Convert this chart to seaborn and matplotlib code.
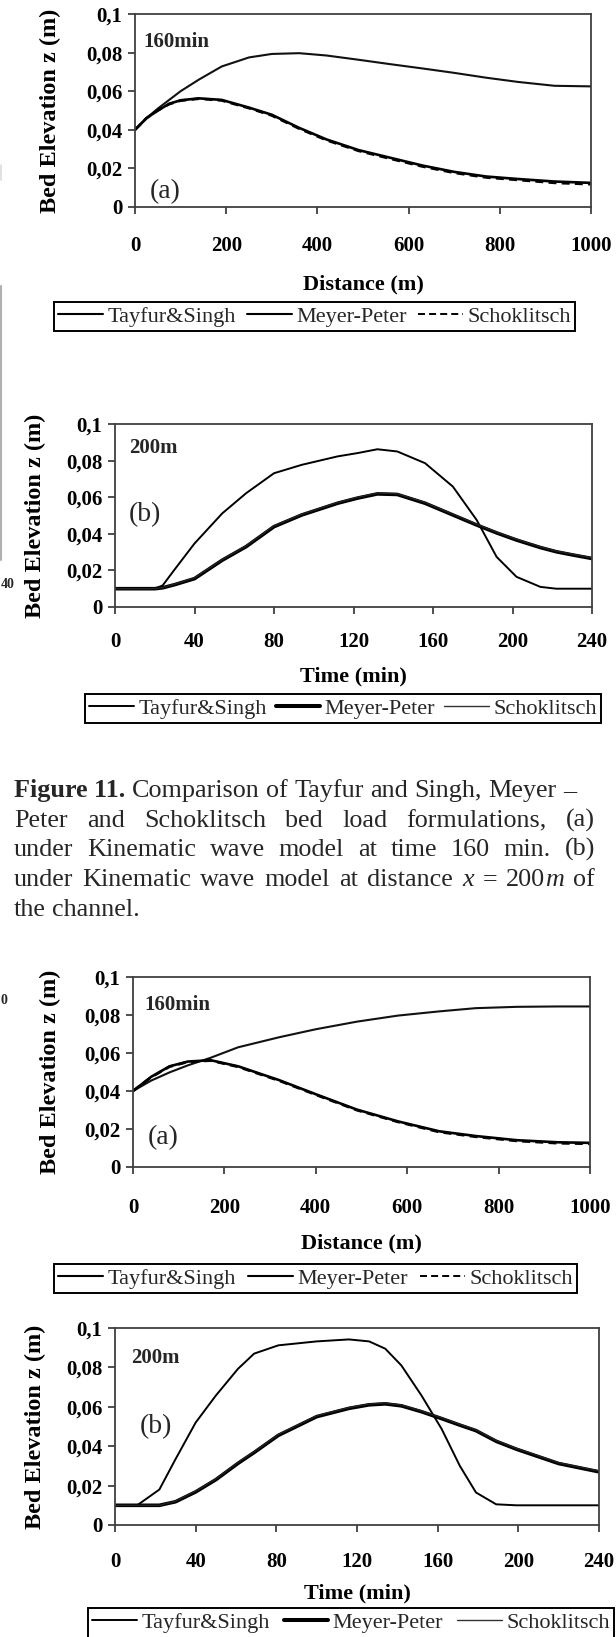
import numpy as np
import pandas as pd
import matplotlib
matplotlib.use("Agg")
import matplotlib.pyplot as plt
import seaborn as sns
from matplotlib.lines import Line2D

# ---------------- data ----------------
legend_labels = ["Tayfur&Singh", "Meyer-Peter", "Schoklitsch"]
y_ticks = [0, 0.02, 0.04, 0.06, 0.08, 0.1]
y_tick_labels = ["0", "0,02", "0,04", "0,06", "0,08", "0,1"]
dist_ticks = [0, 200, 400, 600, 800, 1000]
time_ticks = [0, 40, 80, 120, 160, 200, 240]

# panel 1 : Kinematic wave, t = 160 min
dist_a = [0, 25, 50, 75, 100, 140, 190, 250, 300, 360, 420, 490, 560, 630, 700, 770, 840, 920, 1000]
tayfur_a = [0.040, 0.046, 0.051, 0.0555, 0.060, 0.066, 0.0728, 0.0775, 0.0793, 0.0797, 0.0785, 0.0763,
            0.0740, 0.0718, 0.0695, 0.0670, 0.0648, 0.0628, 0.0625]
meyer_a = [0.040, 0.046, 0.050, 0.0535, 0.0553, 0.0563, 0.0555, 0.0515, 0.0478, 0.0410, 0.0350, 0.0295,
           0.0255, 0.0215, 0.0182, 0.0158, 0.0145, 0.0132, 0.0125]
schok_a = [0.040, 0.046, 0.050, 0.0533, 0.0551, 0.0561, 0.0552, 0.0512, 0.0474, 0.0406, 0.0346, 0.0291,
           0.0250, 0.0210, 0.0177, 0.0153, 0.0140, 0.0125, 0.0118]

# panel 2 : Kinematic wave, x = 200 m
time_b = [0, 10, 20, 24, 30, 40, 54, 66, 80, 94, 112, 122, 132, 142, 156, 170, 182, 192, 202, 214, 222, 230, 240]
tayfur_b = [0.010, 0.010, 0.010, 0.0118, 0.0205, 0.0347, 0.0512, 0.0622, 0.0731, 0.0777, 0.0823, 0.0841,
            0.0862, 0.0850, 0.0786, 0.0658, 0.0475, 0.0274, 0.0165, 0.0110, 0.0100, 0.0100, 0.0100]
meyer_b = [0.010, 0.010, 0.010, 0.0105, 0.0122, 0.0155, 0.0256, 0.0330, 0.0439, 0.0503, 0.0567, 0.0595,
           0.0618, 0.0615, 0.0567, 0.0503, 0.0448, 0.0405, 0.0366, 0.0325, 0.0302, 0.0285, 0.0265]
schok_b = [0.010, 0.010, 0.010, 0.0106, 0.0125, 0.0159, 0.0260, 0.0334, 0.0443, 0.0507, 0.0571, 0.0599,
           0.0622, 0.0619, 0.0571, 0.0507, 0.0452, 0.0409, 0.0370, 0.0329, 0.0306, 0.0289, 0.0269]

# panel 3 : t = 160 min
dist_c = [0, 40, 80, 120, 170, 230, 320, 400, 490, 580, 670, 750, 840, 930, 1000]
tayfur_c = [0.0400, 0.0455, 0.0498, 0.0535, 0.0575, 0.0630, 0.0683, 0.0725, 0.0765, 0.0797, 0.0819,
            0.0836, 0.0843, 0.0845, 0.0845]
meyer_c = [0.0400, 0.0475, 0.0530, 0.0555, 0.0562, 0.0530, 0.0457, 0.0383, 0.0302, 0.0240, 0.0188,
           0.0163, 0.0141, 0.0130, 0.0127]
schok_c = [0.0400, 0.0473, 0.0528, 0.0553, 0.0560, 0.0527, 0.0454, 0.0380, 0.0299, 0.0237, 0.0184,
           0.0159, 0.0137, 0.0125, 0.0122]

# panel 4 : x = 200 m
time_d = [0, 11, 22, 30, 40, 50, 61, 69, 81, 100, 116, 126, 134, 142, 152, 162, 171, 179, 189, 199, 220, 240]
tayfur_d = [0.010, 0.010, 0.018, 0.0334, 0.052, 0.0657, 0.0793, 0.0870, 0.0912, 0.0932, 0.0942, 0.0932,
            0.0895, 0.0810, 0.0657, 0.0487, 0.0300, 0.0165, 0.0105, 0.0100, 0.0100, 0.0100]
meyer_d = [0.010, 0.010, 0.010, 0.0118, 0.0168, 0.0230, 0.0313, 0.0368, 0.0455, 0.0550, 0.0592, 0.0610,
           0.0615, 0.0605, 0.0575, 0.0540, 0.0507, 0.0479, 0.0425, 0.0385, 0.0312, 0.0270]
schok_d = [0.010, 0.010, 0.010, 0.0121, 0.0172, 0.0234, 0.0317, 0.0372, 0.0459, 0.0554, 0.0596, 0.0614,
           0.0619, 0.0609, 0.0579, 0.0544, 0.0511, 0.0483, 0.0429, 0.0389, 0.0316, 0.0274]

caption_lines = [
    [[("Figure 11.", "bold", "normal")], [("Comparison", "normal", "normal")], [("of", "normal", "normal")],
     [("Tayfur", "normal", "normal")], [("and", "normal", "normal")], [("Singh,", "normal", "normal")],
     [("Meyer", "normal", "normal")], [("–", "normal", "normal")]],
    [[(w, "normal", "normal")] for w in "Peter and Schoklitsch bed load formulations, (a)".split()],
    [[(w, "normal", "normal")] for w in "under Kinematic wave model at time 160 min. (b)".split()],
    [[(w, "normal", "normal")] for w in "under Kinematic wave model at distance".split()]
    + [[("x", "normal", "italic")], [("=", "normal", "normal")],
       [("200", "normal", "normal"), ("m", "normal", "italic")], [("of", "normal", "normal")]],
    [[(w, "normal", "normal")] for w in "the channel.".split()],
]

# ---------------- style ----------------
sns.set_theme(style="white")
plt.rcParams['font.family'] = ['Liberation Serif', 'DejaVu Serif']

W, H = 616, 1637
fig = plt.figure(figsize=(W / 100, H / 100), dpi=100)
fig.patch.set_facecolor("white")


def fx(x):
    return x / W


def fy(y):
    return 1 - y / H


def ftext(x, y, s, **kw):
    return fig.text(fx(x), fy(y), s, **kw)


panels = [
    dict(box=(135, 591, 14, 207), xmax=1000, xt=dist_ticks, xlabel="Distance (m)",
         x=dist_a, t=tayfur_a, m=meyer_a, s=schok_a, kind="dist",
         xlab_y=284, ylab_x=50, xtl_pad=16, tag="160min", tag_xy=(143, 42), letter="(a)", let_xy=(150, 192),
         leg=(54, 575, 301, 332)),
    dict(box=(115, 592, 424, 607), xmax=240, xt=time_ticks, xlabel="Time (min)",
         x=time_b, t=tayfur_b, m=meyer_b, s=schok_b, kind="time",
         xlab_y=676, ylab_x=35, xtl_pad=13, tag="200m", tag_xy=(129, 448), letter="(b)", let_xy=(129, 515),
         leg=(85, 601, 691, 726)),
    dict(box=(133, 590, 977, 1167), xmax=1000, xt=dist_ticks, xlabel="Distance (m)",
         x=dist_c, t=tayfur_c, m=meyer_c, s=schok_c, kind="dist",
         xlab_y=1243, ylab_x=50, xtl_pad=17, tag="160min", tag_xy=(144, 1005), letter="(a)", let_xy=(148, 1138),
         leg=(54, 577, 1260, 1297)),
    dict(box=(115, 599, 1328, 1525), xmax=240, xt=time_ticks, xlabel="Time (min)",
         x=time_d, t=tayfur_d, m=meyer_d, s=schok_d, kind="time",
         xlab_y=1593, ylab_x=35, xtl_pad=14.5, tag="200m", tag_xy=(131, 1358), letter="(b)", let_xy=(140, 1427),
         leg=(88, 614, 1604, 1642)),
]

for p in panels:
    l, r, t, b = p["box"]
    ax = fig.add_axes([fx(l), fy(b), (r - l) / W, (b - t) / H])
    ax.set_facecolor("white")
    if p["kind"] == "dist":
        sns.lineplot(x=p["x"], y=p["t"], ax=ax, color="#111111", linewidth=1.5, estimator=None, sort=False)
        sns.lineplot(x=p["x"], y=p["m"], ax=ax, color="black", linewidth=1.9, estimator=None, sort=False)
        sns.lineplot(x=p["x"], y=p["s"], ax=ax, color="black", linewidth=1.9, linestyle=(0, (3, 2)),
                     estimator=None, sort=False)
        handles = [Line2D([], [], color="black", lw=1.5),
                   Line2D([], [], color="black", lw=1.5),
                   Line2D([], [], color="black", lw=1.4, ls=(0, (3.6, 2.1)))]
    else:
        sns.lineplot(x=p["x"], y=p["t"], ax=ax, color="black", linewidth=1.4, estimator=None, sort=False)
        sns.lineplot(x=p["x"], y=p["m"], ax=ax, color="black", linewidth=2.6, estimator=None, sort=False)
        sns.lineplot(x=p["x"], y=p["s"], ax=ax, color="#222222", linewidth=1.0, estimator=None, sort=False)
        handles = [Line2D([], [], color="black", lw=1.4),
                   Line2D([], [], color="black", lw=2.9),
                   Line2D([], [], color="#333333", lw=1.0)]

    ax.set_xlim(0, p["xmax"])
    ax.set_ylim(0, 0.1)
    ax.set_xticks(p["xt"])
    ax.set_xticklabels([str(v) for v in p["xt"]])
    ax.set_yticks(y_ticks)
    ax.set_yticklabels(y_tick_labels)
    ax.tick_params(axis="both", which="major", direction="out", length=5, width=1.2, color="#303030",
                   labelcolor="black", labelsize=15, bottom=True, left=True, top=False, right=False)
    ax.tick_params(axis="x", pad=p["xtl_pad"])
    ax.tick_params(axis="y", pad=4)
    for lab in ax.get_xticklabels() + ax.get_yticklabels():
        lab.set_fontweight("bold")
    for sp in ax.spines.values():
        sp.set_visible(True)
        sp.set_color("#404040")
        sp.set_linewidth(1.3)
    ax.grid(False)

    ax.set_xlabel(p["xlabel"], fontsize=16, fontweight="bold", color="black")
    ax.xaxis.set_label_coords(0.5, (b - p["xlab_y"]) / (b - t))
    ax.xaxis.label.set_va("center")
    ax.set_ylabel("Bed Elevation z (m)", fontsize=17.5, fontweight="bold", color="black")
    ax.yaxis.set_label_coords((p["ylab_x"] - l) / (r - l), 0.5)
    ax.yaxis.label.set_va("center")

    ftext(p["tag_xy"][0], p["tag_xy"][1], p["tag"], fontsize=15, fontweight="bold", ha="left", va="center")
    ftext(p["let_xy"][0], p["let_xy"][1], p["letter"], fontsize=20, ha="left", va="center")

    lx0, lx1, ly0, ly1 = p["leg"]
    leg = fig.legend(handles, legend_labels, loc="center",
                     bbox_to_anchor=(fx(lx0), fy(ly1), (lx1 - lx0) / W, (ly1 - ly0) / H),
                     bbox_transform=fig.transFigure, mode="expand", ncol=3, frameon=True, fancybox=False,
                     edgecolor="black", facecolor="white", framealpha=1, fontsize=16, handlelength=2.0,
                     handletextpad=0.2, columnspacing=0.3, borderpad=0.2, borderaxespad=0)
    leg.get_frame().set_linewidth(1.4)

# ---------------- caption (justified) ----------------
fig.canvas.draw()
renderer = fig.canvas.get_renderer()


def measure(s, size, wt="normal", st="normal"):
    tt = fig.text(0, 0, s, fontsize=size, fontweight=wt, fontstyle=st)
    w = tt.get_window_extent(renderer).width
    tt.remove()
    return w


def natural_width(line, size):
    ws = sum(measure(s, size, wt, st) for word in line for s, wt, st in word)
    sw = measure("a a", size) - 2 * measure("a", size)
    return ws + sw * (len(line) - 1)


# font size chosen so that the first (unjustified) line spans 14 -> 574 px as in the picture
cap_size = 16.5 * 560 / natural_width(caption_lines[0], 16.5)
left_x, right_x = 14, 595
baselines = [797, 827, 856, 886, 916]
justify = [False, True, True, True, False]
space_w = measure("a a", cap_size) - 2 * measure("a", cap_size)
for line, base, just in zip(caption_lines, baselines, justify):
    words = []
    for word in line:
        segs = [ftext(0, base, s, fontsize=cap_size, fontweight=wt, fontstyle=st, ha="left", va="baseline")
                for s, wt, st in word]
        words.append(segs)
    widths = [[sg.get_window_extent(renderer).width for sg in segs] for segs in words]
    totals = [sum(wl) for wl in widths]
    gap = (right_x - left_x - sum(totals)) / (len(words) - 1) if just else space_w
    x = left_x
    for segs, wl in zip(words, widths):
        for sg, w in zip(segs, wl):
            sg.set_position((fx(x), fy(base)))
            x += w
        x += gap

# ---------------- fragments of neighbouring figures at the left edge ----------------
fig.add_artist(Line2D([fx(1), fx(1)], [fy(286), fy(560)], color="#b0b0b0", lw=1.5))
fig.add_artist(Line2D([fx(1), fx(1)], [fy(165), fy(180)], color="#dcdcdc", lw=1.2))
ftext(0.5, 584, "40", fontsize=10, fontweight="bold", ha="left", va="center")
ftext(0.5, 1001, "0", fontsize=10, fontweight="bold", ha="left", va="center")

fig.savefig("out.png", dpi=100, facecolor="white")
